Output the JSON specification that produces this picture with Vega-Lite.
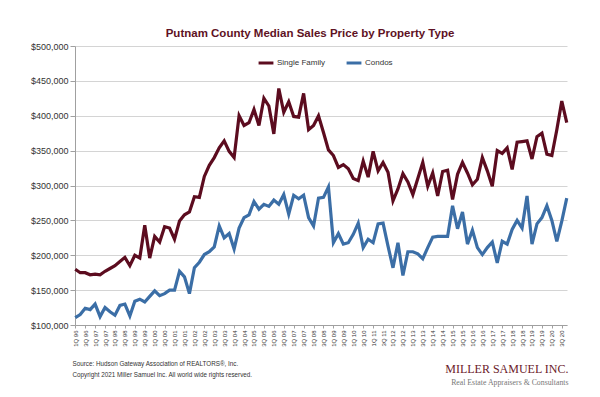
{
  "$schema": "https://vega.github.io/schema/vega-lite/v6.json",
  "width": 492,
  "height": 279,
  "autosize": {"type": "none"},
  "padding": {"left": 75, "top": 46, "right": 33, "bottom": 72},
  "background": "white",
  "config": {"view": {"stroke": null}, "font": "Liberation Sans"},
  "title": {"text": "Putnam County Median Sales Price by Property Type", "fontSize": 11.5, "fontWeight": "bold", "color": "#5e1224", "font": "Liberation Sans", "offset": 3, "anchor": "middle", "frame": "group", "dx": -11},
  "data": {"values": [
    {"q":"1Q 96","Single Family":180000,"Condos":110500},
    {"q":"2Q 96","Single Family":175000,"Condos":115000},
    {"q":"3Q 96","Single Family":175000,"Condos":124000},
    {"q":"4Q 96","Single Family":172000,"Condos":122000},
    {"q":"1Q 97","Single Family":173000,"Condos":130000},
    {"q":"2Q 97","Single Family":172000,"Condos":112000},
    {"q":"3Q 97","Single Family":177000,"Condos":125000},
    {"q":"4Q 97","Single Family":181000,"Condos":119000},
    {"q":"1Q 98","Single Family":185000,"Condos":114000},
    {"q":"2Q 98","Single Family":191000,"Condos":128000},
    {"q":"3Q 98","Single Family":197000,"Condos":130000},
    {"q":"4Q 98","Single Family":185000,"Condos":113000},
    {"q":"1Q 99","Single Family":200000,"Condos":134000},
    {"q":"2Q 99","Single Family":196000,"Condos":137000},
    {"q":"3Q 99","Single Family":243000,"Condos":133000},
    {"q":"4Q 99","Single Family":196000,"Condos":141000},
    {"q":"1Q 00","Single Family":227000,"Condos":149000},
    {"q":"2Q 00","Single Family":219000,"Condos":142000},
    {"q":"3Q 00","Single Family":241000,"Condos":145000},
    {"q":"4Q 00","Single Family":239000,"Condos":150000},
    {"q":"1Q 01","Single Family":223000,"Condos":150000},
    {"q":"2Q 01","Single Family":249000,"Condos":177000},
    {"q":"3Q 01","Single Family":258000,"Condos":169000},
    {"q":"4Q 01","Single Family":262000,"Condos":145000},
    {"q":"1Q 02","Single Family":284000,"Condos":182000},
    {"q":"2Q 02","Single Family":283000,"Condos":190000},
    {"q":"3Q 02","Single Family":313000,"Condos":201000},
    {"q":"4Q 02","Single Family":329000,"Condos":205000},
    {"q":"1Q 03","Single Family":340000,"Condos":212000},
    {"q":"2Q 03","Single Family":354000,"Condos":242000},
    {"q":"3Q 03","Single Family":364000,"Condos":225000},
    {"q":"4Q 03","Single Family":349000,"Condos":231000},
    {"q":"1Q 04","Single Family":340000,"Condos":209000},
    {"q":"2Q 04","Single Family":400000,"Condos":239000},
    {"q":"3Q 04","Single Family":386000,"Condos":254000},
    {"q":"4Q 04","Single Family":390000,"Condos":258000},
    {"q":"1Q 05","Single Family":409000,"Condos":277000},
    {"q":"2Q 05","Single Family":386000,"Condos":266000},
    {"q":"3Q 05","Single Family":425000,"Condos":273000},
    {"q":"4Q 05","Single Family":414000,"Condos":270000},
    {"q":"1Q 06","Single Family":374000,"Condos":279000},
    {"q":"2Q 06","Single Family":439000,"Condos":273000},
    {"q":"3Q 06","Single Family":405000,"Condos":287000},
    {"q":"4Q 06","Single Family":420000,"Condos":259000},
    {"q":"1Q 07","Single Family":399000,"Condos":286000},
    {"q":"2Q 07","Single Family":398000,"Condos":281000},
    {"q":"3Q 07","Single Family":432000,"Condos":286000},
    {"q":"4Q 07","Single Family":380000,"Condos":254000},
    {"q":"1Q 08","Single Family":386000,"Condos":242000},
    {"q":"2Q 08","Single Family":400000,"Condos":282000},
    {"q":"3Q 08","Single Family":376000,"Condos":283000},
    {"q":"4Q 08","Single Family":351000,"Condos":298000},
    {"q":"1Q 09","Single Family":343000,"Condos":218000},
    {"q":"2Q 09","Single Family":326000,"Condos":231000},
    {"q":"3Q 09","Single Family":330000,"Condos":216000},
    {"q":"4Q 09","Single Family":324000,"Condos":218000},
    {"q":"1Q 10","Single Family":310000,"Condos":230000},
    {"q":"2Q 10","Single Family":307000,"Condos":246000},
    {"q":"3Q 10","Single Family":335000,"Condos":211000},
    {"q":"4Q 10","Single Family":312000,"Condos":223000},
    {"q":"1Q 11","Single Family":349000,"Condos":218000},
    {"q":"2Q 11","Single Family":321000,"Condos":245000},
    {"q":"3Q 11","Single Family":333000,"Condos":246000},
    {"q":"4Q 11","Single Family":319000,"Condos":213000},
    {"q":"1Q 12","Single Family":278000,"Condos":182000},
    {"q":"2Q 12","Single Family":295000,"Condos":218000},
    {"q":"3Q 12","Single Family":317000,"Condos":171000},
    {"q":"4Q 12","Single Family":305000,"Condos":205000},
    {"q":"1Q 13","Single Family":287000,"Condos":205000},
    {"q":"2Q 13","Single Family":310000,"Condos":202000},
    {"q":"3Q 13","Single Family":333000,"Condos":195000},
    {"q":"4Q 13","Single Family":299000,"Condos":211000},
    {"q":"1Q 14","Single Family":318000,"Condos":226000},
    {"q":"2Q 14","Single Family":285000,"Condos":227000},
    {"q":"3Q 14","Single Family":320000,"Condos":227000},
    {"q":"4Q 14","Single Family":322000,"Condos":227000},
    {"q":"1Q 15","Single Family":280000,"Condos":271000},
    {"q":"2Q 15","Single Family":316000,"Condos":238000},
    {"q":"3Q 15","Single Family":333000,"Condos":262000},
    {"q":"4Q 15","Single Family":318000,"Condos":216000},
    {"q":"1Q 16","Single Family":301000,"Condos":236000},
    {"q":"2Q 16","Single Family":309000,"Condos":211000},
    {"q":"3Q 16","Single Family":340000,"Condos":201000},
    {"q":"4Q 16","Single Family":321000,"Condos":211000},
    {"q":"1Q 17","Single Family":299000,"Condos":219000},
    {"q":"2Q 17","Single Family":350000,"Condos":189000},
    {"q":"3Q 17","Single Family":346000,"Condos":220000},
    {"q":"4Q 17","Single Family":354000,"Condos":216000},
    {"q":"1Q 18","Single Family":323000,"Condos":237000},
    {"q":"2Q 18","Single Family":362000,"Condos":250000},
    {"q":"3Q 18","Single Family":363000,"Condos":239000},
    {"q":"4Q 18","Single Family":364000,"Condos":285000},
    {"q":"1Q 19","Single Family":338000,"Condos":216000},
    {"q":"2Q 19","Single Family":370000,"Condos":245000},
    {"q":"3Q 19","Single Family":375000,"Condos":254000},
    {"q":"4Q 19","Single Family":345000,"Condos":271000},
    {"q":"1Q 20","Single Family":343000,"Condos":250000},
    {"q":"2Q 20","Single Family":380000,"Condos":220000},
    {"q":"3Q 20","Single Family":421000,"Condos":249000},
    {"q":"4Q 20","Single Family":390000,"Condos":282000}
  ]},
  "transform": [{"fold": ["Single Family", "Condos"], "as": ["type", "price"]}],
  "encoding": {
    "x": {
      "field": "q", "type": "nominal", "sort": null,
      "scale": {"type": "point", "padding": 0.05},
      "axis": {
        "values": ["1Q 96","3Q 96","1Q 97","3Q 97","1Q 98","3Q 98","1Q 99","3Q 99","1Q 00","3Q 00","1Q 01","3Q 01","1Q 02","3Q 02","1Q 03","3Q 03","1Q 04","3Q 04","1Q 05","3Q 05","1Q 06","3Q 06","1Q 07","3Q 07","1Q 08","3Q 08","1Q 09","3Q 09","1Q 10","3Q 10","1Q 11","3Q 11","1Q 12","3Q 12","1Q 13","3Q 13","1Q 14","3Q 14","1Q 15","3Q 15","1Q 16","3Q 16","1Q 17","3Q 17","1Q 18","3Q 18","1Q 19","3Q 19","1Q 20","3Q 20"],
        "labelAngle": 270, "labelFontSize": 6, "labelColor": "#333333", "labelPadding": 2,
        "tickSize": 3, "tickColor": "#a0a0a0", "domainColor": "#a0a0a0", "grid": false,
        "title": "MILLER SAMUEL INC.", "titleFont": "Liberation Serif", "titleFontSize": 12,
        "titleFontWeight": "normal", "titleColor": "#6b1a2a",
        "titleX": 493, "titleY": 47, "titleAlign": "right", "titleBaseline": "alphabetic", "titleAnchor": null
      }
    },
    "color": {
      "field": "type", "type": "nominal",
      "scale": {"domain": ["Single Family", "Condos"], "range": ["#5c0c1f", "#3b6ea6"]},
      "legend": {
        "orient": "none", "legendX": 182, "legendY": 8, "direction": "horizontal", "title": null,
        "symbolType": "stroke", "symbolStrokeWidth": 3, "symbolSize": 220,
        "labelFontSize": 8, "labelColor": "#333333", "columnPadding": 14, "labelOffset": 2
      }
    }
  },
  "layer": [
    {
      "transform": [{"filter": "datum.type === 'Single Family'"}],
      "mark": {"type": "line", "strokeWidth": 3.2},
      "encoding": {
        "y": {
          "field": "price", "type": "quantitative",
          "scale": {"domain": [100000, 500000], "nice": false, "zero": false},
          "axis": {
            "values": [100000,150000,200000,250000,300000,350000,400000,450000,500000],
            "format": "$,.0f", "labelFontSize": 9, "labelColor": "#333333", "labelPadding": 2,
            "tickSize": 5, "tickColor": "#a0a0a0", "domainColor": "#a0a0a0", "gridColor": "#d4d4d4",
            "title": ["Source: Hudson Gateway Association of REALTORS®, Inc.", "Copyright 2021 Miller Samuel Inc.  All world wide rights reserved."],
            "titleAngle": 0, "titleAlign": "left", "titleBaseline": "alphabetic",
            "titleX": -3, "titleY": 319, "titleFontSize": 6.3, "titleFontWeight": "normal",
            "titleColor": "#333333", "titleLineHeight": 11, "titleAnchor": null
          }
        }
      }
    },
    {
      "transform": [{"filter": "datum.type === 'Condos'"}],
      "mark": {"type": "line", "strokeWidth": 3.2},
      "encoding": {
        "y": {
          "field": "price", "type": "quantitative",
          "scale": {"domain": [100000, 500000], "nice": false, "zero": false},
          "axis": {
            "orient": "right", "labels": false, "ticks": false, "domain": false, "grid": false,
            "title": "Real Estate Appraisers & Consultants", "titleAngle": 0, "titleAlign": "right",
            "titleBaseline": "alphabetic", "titleX": 1, "titleY": 338, "titleFont": "Liberation Serif",
            "titleFontSize": 7.8, "titleFontWeight": "normal", "titleColor": "#777777", "titleAnchor": null
          }
        }
      }
    }
  ],
  "resolve": {"scale": {"y": "independent"}}
}
